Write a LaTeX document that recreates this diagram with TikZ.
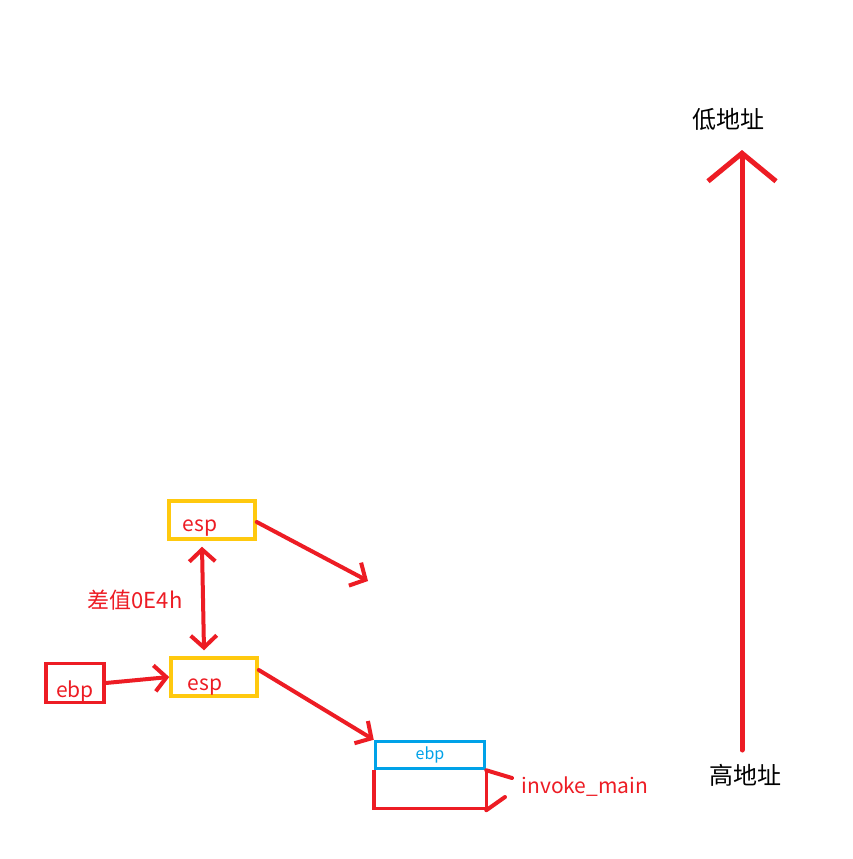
\documentclass[tikz,border=0pt]{standalone}
\usepackage{fontspec}
\setmainfont{Noto Sans CJK SC}
\usetikzlibrary{positioning,arrows.meta}
\definecolor{penred}{HTML}{ED1C24}
\definecolor{pengold}{HTML}{FFC90E}
\definecolor{penblue}{HTML}{00A2E8}
\tikzset{
  regbox/.style={draw=pengold,line width=3.5pt,minimum width=86pt,minimum height=38pt,inner sep=0pt},
  ebpbox/.style={draw=penred,line width=3.5pt,minimum width=58pt,minimum height=39pt,inner sep=0pt},
  regtext/.style={text=penred,inner sep=0pt},
  pen/.style={draw=penred,line width=4pt,line cap=round},
  barb/.tip={Straight Barb[length=12pt,width=26pt,line width=4pt]},
  tip/.style={-barb},
  bigtip/.style={-{Straight Barb[length=28pt,width=68pt,line width=5pt]}}
}
\begin{document}
\begin{tikzpicture}[x=1pt,y=-1pt,font=\fontsize{21}{24}\selectfont]
\useasboundingbox[fill=white] (0,0) rectangle (852,859);
\node[regbox] (esptop) at (212,520) {};
\node[regbox] (espbot) at (214,677) {};
\node[ebpbox] (ebp) at (75,683) {};
\node[regtext] at ([xshift=-12pt,yshift=-8pt]esptop.center) {esp};
\node[regtext] at ([xshift=-9pt,yshift=-10pt]espbot.center) {esp};
\node[regtext] at ([yshift=-9pt]ebp.center) {ebp};
\node[draw=penblue,line width=3.5pt,minimum width=109pt,minimum height=27pt,inner sep=0pt,text=penblue,font=\fontsize{16}{18}\selectfont] (frame) at (430,755) {ebp};
\draw[draw=penred,line width=3.5pt] (frame.south west) -- ++(0,38) coordinate (stackbot) -| (frame.south east);
\node[text=penred,anchor=west] (invoke) at (518,787) {invoke\_main};
\node[text=penred,font=\fontsize{22}{24}\selectfont] (diff) at (135,600) {差值0E4h};
\node[font=\fontsize{24}{26}\selectfont] (lowtext) at (728,119) {低地址};
\node[font=\fontsize{24}{26}\selectfont] (hightext) at (745,775) {高地址};
% connectors
\draw[pen,barb-barb] ([xshift=-10pt,yshift=-6pt]esptop.south) -- ([xshift=-10pt,yshift=6pt]espbot.north);
\draw[pen,tip] (ebp.east) -- (espbot.west);
\draw[pen,tip] ([yshift=-2pt]esptop.east) -- (368,581);
\draw[pen,tip] ([yshift=7pt]espbot.east) -- (frame.north west);
\draw[pen] (frame.south east) -- ([xshift=-6pt,yshift=9pt]invoke.west);
\draw[pen] ([yshift=-2pt]frame.south east |- stackbot) -- ([xshift=-13pt,yshift=-10pt]invoke.west);
\draw[pen,line width=5pt,bigtip] (742,750) -- (742,150);
\end{tikzpicture}
\end{document}
